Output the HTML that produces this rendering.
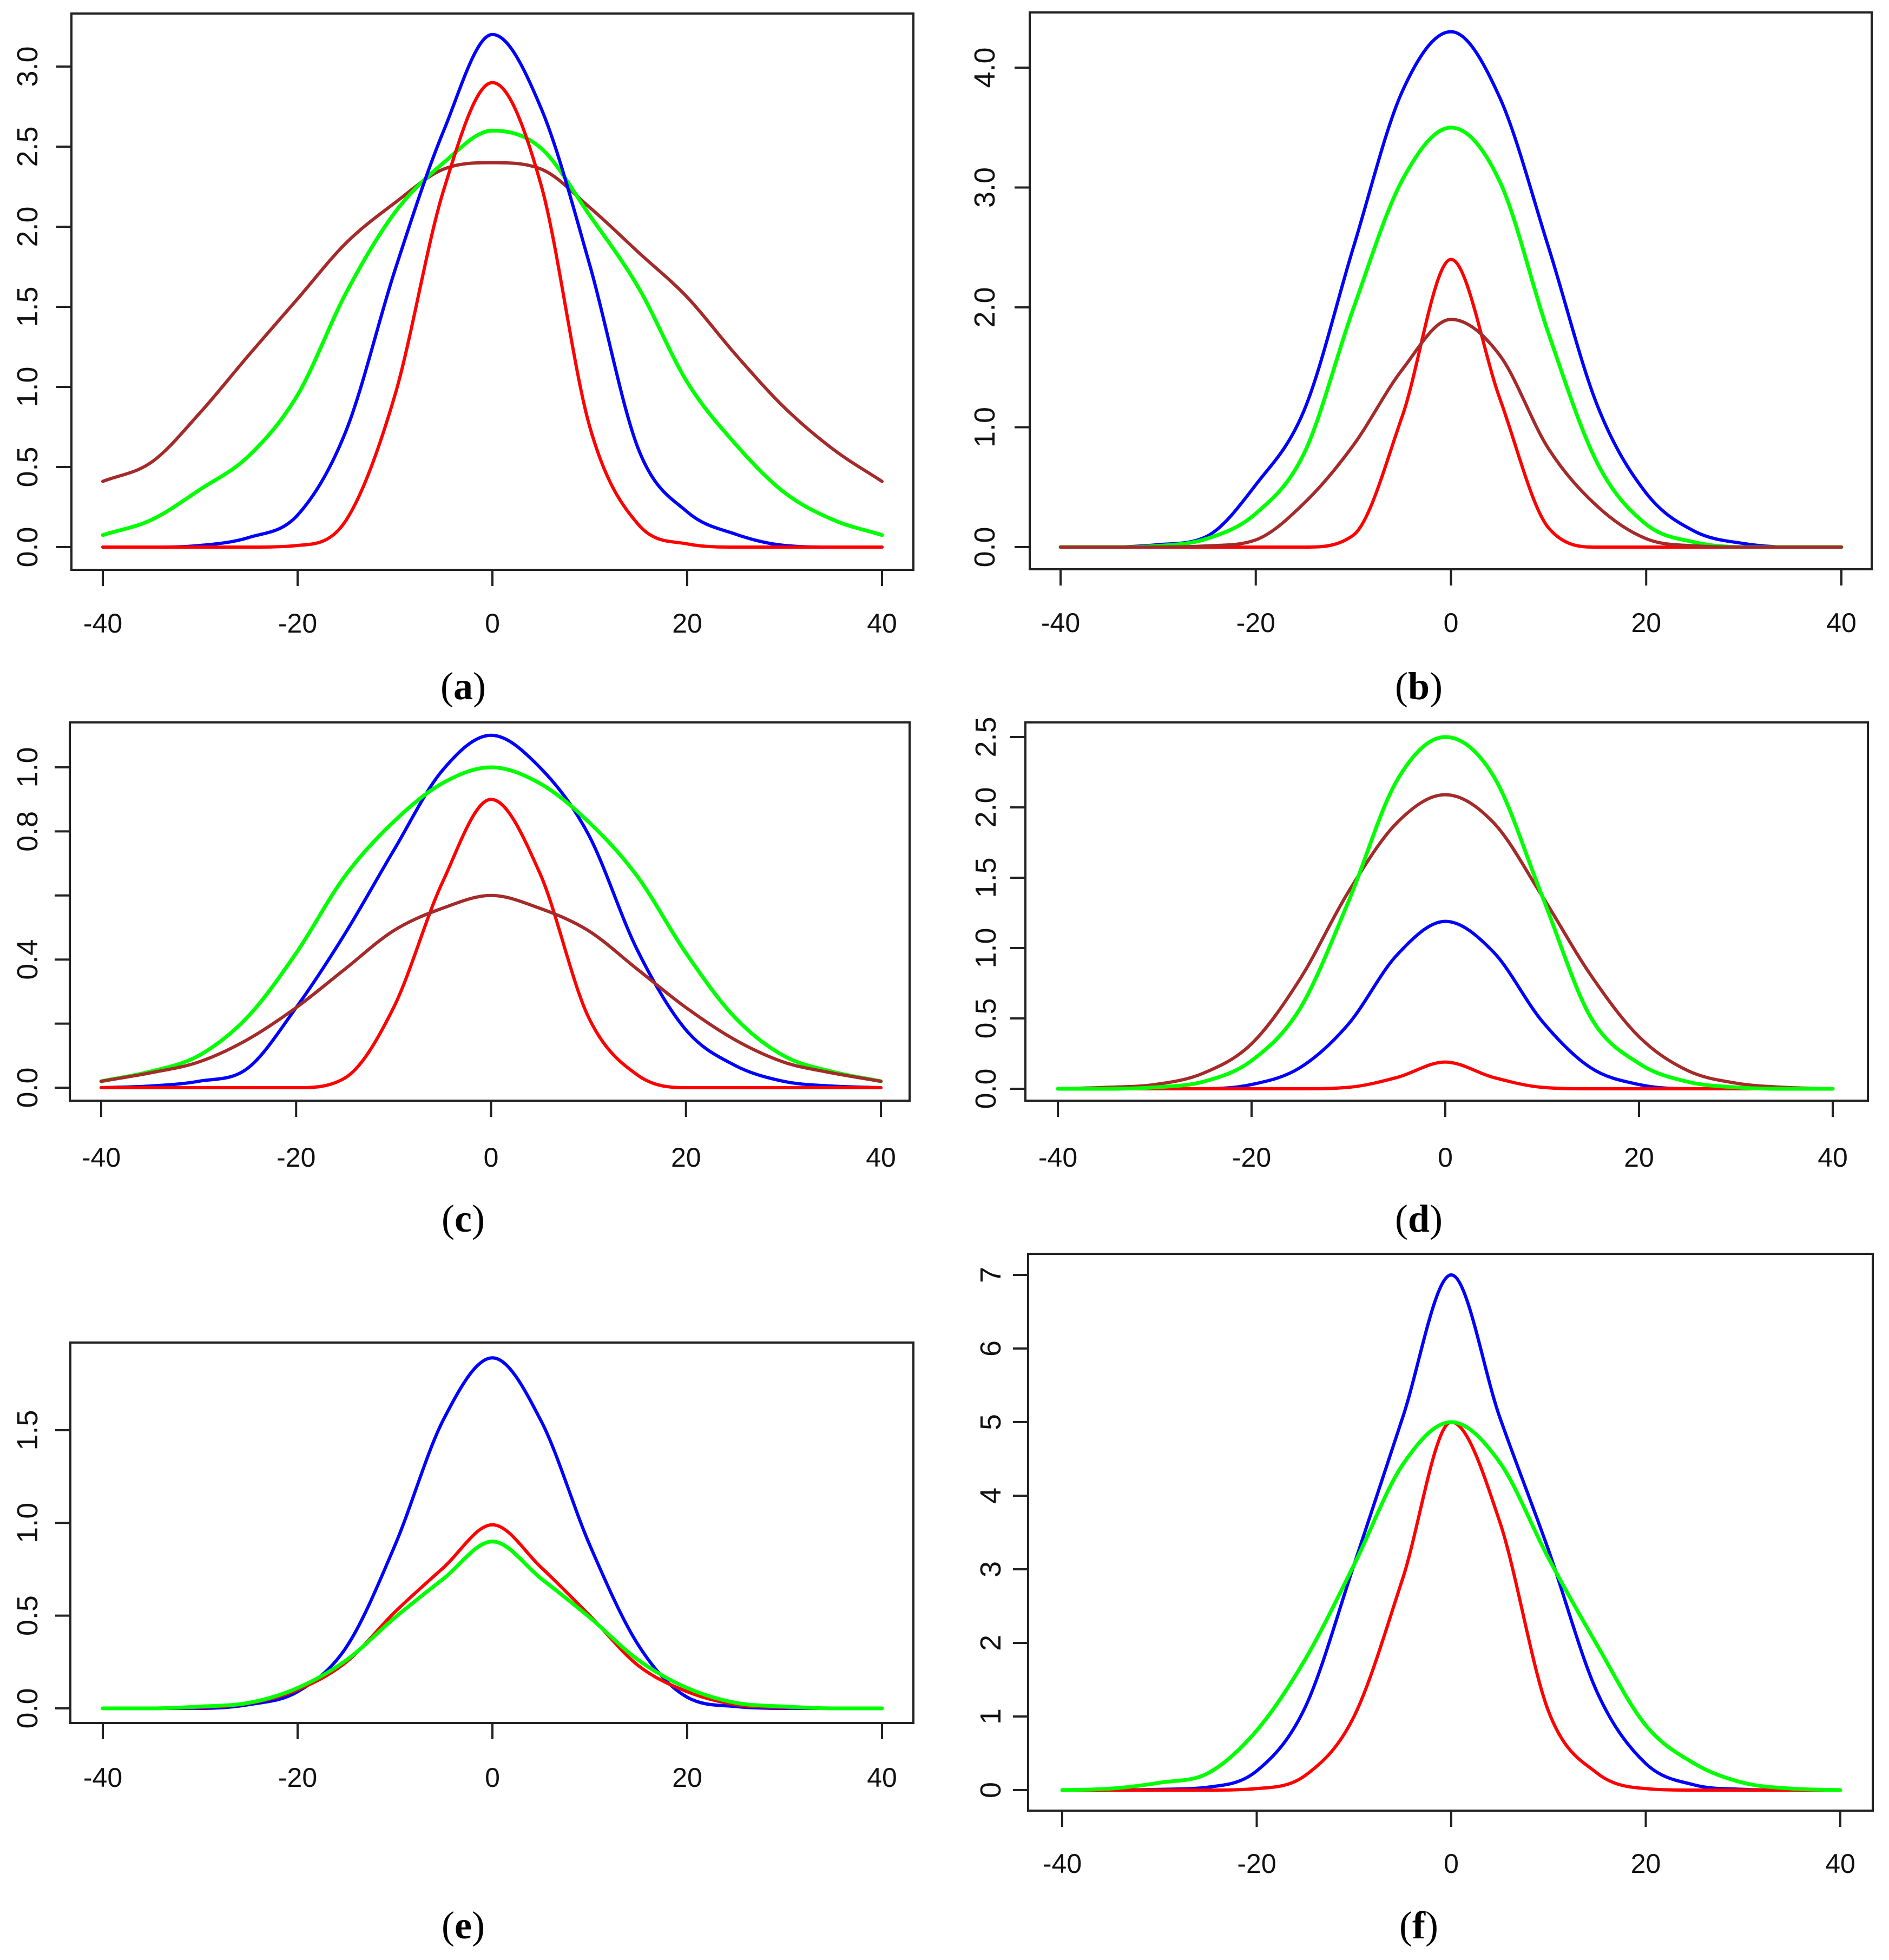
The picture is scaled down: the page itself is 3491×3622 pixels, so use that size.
<!DOCTYPE html>
<html><head><meta charset="utf-8"><style>
html,body{margin:0;padding:0;background:#fff;}
svg{display:block;}
</style></head><body>
<svg id="fig" width="3491" height="3622" viewBox="0 0 3491 3622" xmlns="http://www.w3.org/2000/svg"></svg>
<script>
const xs = [-40,-35,-30,-25,-20,-15,-10,-5,0,5,10,15,20,25,30,35,40];
// panel a
const aBlue  = [0,0,0.01,0.06,0.2,0.73,1.73,2.6,3.2,2.74,1.76,0.61,0.22,0.08,0.01,0,0];
const aRed   = [0,0,0,0,0.01,0.17,0.95,2.23,2.9,2.26,0.75,0.14,0.02,0,0,0,0];
const aGreen = [0.075,0.17,0.36,0.57,0.95,1.59,2.09,2.4,2.6,2.49,2.07,1.62,1.03,0.64,0.34,0.17,0.075];
const aBrown = [0.41,0.53,0.84,1.2,1.55,1.9,2.15,2.36,2.4,2.36,2.12,1.84,1.56,1.2,0.87,0.61,0.41];
// panel b
const bBlue  = [0,0,0.02,0.09,0.52,1.15,2.5,3.8,4.3,3.75,2.5,1.18,0.45,0.13,0.03,0,0];
const bGreen = [0,0,0.01,0.07,0.28,0.79,1.99,3.06,3.5,3.05,1.78,0.7,0.19,0.04,0,0,0];
const bRed   = [0,0,0,0,0,0,0.1,1.09,2.4,1.24,0.16,0,0,0,0,0,0];
const bBrown = [0,0,0,0.01,0.06,0.37,0.85,1.48,1.9,1.6,0.82,0.34,0.07,0.01,0,0,0];
// panel c
const cBlue  = [0,0.005,0.02,0.06,0.25,0.48,0.74,0.99,1.1,1.0,0.79,0.43,0.18,0.07,0.02,0.005,0];
const cGreen = [0.02,0.05,0.10,0.22,0.42,0.66,0.83,0.95,1.0,0.95,0.83,0.66,0.42,0.22,0.10,0.05,0.02];
const cRed   = [0,0,0,0,0,0.03,0.25,0.64,0.9,0.67,0.22,0.04,0,0,0,0,0];
const cBrown = [0.02,0.046,0.08,0.15,0.25,0.37,0.49,0.56,0.6,0.56,0.49,0.37,0.25,0.15,0.08,0.046,0.02];
// panel d
const dGreen = [0,0,0.01,0.05,0.2,0.57,1.33,2.19,2.5,2.22,1.37,0.51,0.18,0.05,0.01,0,0];
const dBrown = [0,0.01,0.03,0.11,0.32,0.78,1.4,1.89,2.09,1.89,1.37,0.81,0.37,0.13,0.04,0.01,0];
const dBlue  = [0,0,0,0,0.03,0.15,0.46,0.95,1.19,0.97,0.48,0.15,0.03,0,0,0,0];
const dRed   = [0,0,0,0,0,0,0.01,0.08,0.19,0.08,0.01,0,0,0,0,0,0];
// panel e
const eBlue  = [0,0,0,0.02,0.09,0.33,0.88,1.56,1.89,1.55,0.88,0.34,0.06,0.01,0,0,0];
const eRed   = [0,0,0.005,0.027,0.1,0.25,0.52,0.76,0.99,0.76,0.5,0.23,0.09,0.02,0.005,0,0];
const eGreen = [0,0,0.01,0.03,0.11,0.26,0.49,0.70,0.9,0.70,0.49,0.26,0.11,0.03,0.01,0,0];
// panel f
const fBlue  = [0,0,0.01,0.04,0.26,1.13,3.06,5.06,7.0,5.06,3.26,1.33,0.36,0.07,0.01,0,0];
const fGreen = [0,0.02,0.1,0.23,0.81,1.78,3.06,4.42,5.0,4.45,3.15,1.97,0.88,0.36,0.1,0.02,0];
const fRed   = [0,0,0,0,0.02,0.2,1.0,2.87,5.0,3.64,1.07,0.23,0.02,0,0,0,0];

const xTicks = [-40,-20,0,20,40];
const aYTicks = [0,0.5,1,1.5,2,2.5,3];
const aYLabels = ["0.0","0.5","1.0","1.5","2.0","2.5","3.0"];
const bYTicks = [0,1,2,3,4];
const bYLabels = ["0.0","1.0","2.0","3.0","4.0"];
const cYTicks = [0,0.2,0.4,0.6,0.8,1.0];
const cYLabels = ["0.0","","0.4","","0.8","1.0"];
const dYTicks = [0,0.5,1,1.5,2,2.5];
const dYLabels = ["0.0","0.5","1.0","1.5","2.0","2.5"];
const eYTicks = [0,0.5,1,1.5];
const eYLabels = ["0.0","0.5","1.0","1.5"];
const fYTicks = [0,1,2,3,4,5,6,7];
const fYLabels = ["0","1","2","3","4","5","6","7"];

const BLUE="#0000ff", RED="#ff0000", GREEN="#00ff00", BROWN="#a52a2a";
const panels = [
 {id:"a", box:[132,25,1688,1053], xp:[190,1630], y0:1011, yu:296, yt:aYTicks, yl:aYLabels, xl:1152, ylx:51, cap:[856,1268],
  series:[[aBrown,BROWN,"brown"],[aGreen,GREEN,"green"],[aBlue,BLUE,"blue"],[aRed,RED,"red"]]},
 {id:"b", box:[1903,23,3459,1052], xp:[1960,3403], y0:1011, yu:221.5, yt:bYTicks, yl:bYLabels, xl:1151, ylx:1820, cap:[2622,1268],
  series:[[bBlue,BLUE,"blue"],[bGreen,GREEN,"green"],[bRed,RED,"red"],[bBrown,BROWN,"brown"]]},
 {id:"c", box:[129,1335,1681,2034], xp:[187,1628], y0:2010, yu:592, yt:cYTicks, yl:cYLabels, xl:2139, ylx:51, cap:[856,2252],
  series:[[cBlue,BLUE,"blue"],[cGreen,GREEN,"green"],[cRed,RED,"red"],[cBrown,BROWN,"brown"]]},
 {id:"d", box:[1895,1335,3452,2034], xp:[1955,3387], y0:2012, yu:260, yt:dYTicks, yl:dYLabels, xl:2139, ylx:1822, cap:[2622,2252],
  series:[[dBlue,BLUE,"blue"],[dRed,RED,"red"],[dBrown,BROWN,"brown"],[dGreen,GREEN,"green"]]},
 {id:"e", box:[130,2481,1688,3184], xp:[190,1630], y0:3157, yu:342.7, yt:eYTicks, yl:eYLabels, xl:3285, ylx:51, cap:[856,3558],
  series:[[eBlue,BLUE,"blue"],[eRed,RED,"red"],[eGreen,GREEN,"green"]]},
 {id:"f", box:[1900,2317,3461,3346], xp:[1963,3401], y0:3308, yu:136, yt:fYTicks, yl:fYLabels, xl:3444, ylx:1831, cap:[2622,3558],
  series:[[fBlue,BLUE,"blue"],[fRed,RED,"red"],[fGreen,GREEN,"green"]]}
];
const NS="http://www.w3.org/2000/svg";
const svg=document.getElementById("fig");
function mk(tag,attrs,parent){const e=document.createElementNS(NS,tag);for(const k in attrs)e.setAttribute(k,attrs[k]);(parent||svg).appendChild(e);return e;}
// monotone cubic (Fritsch-Carlson) path, no overshoot
function monoPath(pts){
  const n=pts.length, dx=[], m=[], t=new Array(n);
  for(let i=0;i<n-1;i++){dx[i]=pts[i+1][0]-pts[i][0];m[i]=(pts[i+1][1]-pts[i][1])/dx[i];}
  t[0]=m[0];t[n-1]=m[n-2];
  for(let i=1;i<n-1;i++){t[i]=(m[i-1]*m[i]<=0)?0:(m[i-1]+m[i])/2;}
  for(let i=0;i<n-1;i++){
    if(m[i]===0){t[i]=0;t[i+1]=0;continue;}
    const a=t[i]/m[i],b=t[i+1]/m[i],s=a*a+b*b;
    if(s>9){const k=3/Math.sqrt(s);t[i]=k*a*m[i];t[i+1]=k*b*m[i];}
  }
  let d="M"+pts[0][0].toFixed(1)+","+pts[0][1].toFixed(1);
  for(let i=0;i<n-1;i++){
    const h=dx[i]/3;
    d+=" C"+(pts[i][0]+h).toFixed(1)+","+(pts[i][1]+t[i]*h).toFixed(1)+" "+(pts[i+1][0]-h).toFixed(1)+","+(pts[i+1][1]-t[i+1]*h).toFixed(1)+" "+pts[i+1][0].toFixed(1)+","+pts[i+1][1].toFixed(1);
  }
  return d;
}
panels.forEach(P=>{
  const g=mk("g",{});
  
  
  const xScale=v=>P.xp[0]+(v+40)/80*(P.xp[1]-P.xp[0]);
  const yScale=v=>P.y0-v*P.yu;
  const [l,t,r,b]=P.box;
  const box=mk("rect",{x:l,y:t,width:r-l,height:b-t,fill:"none",stroke:"#222",'stroke-width':4},g);
  
  
  const xa=mk("g",{},g);
  
  
  mk("line",{x1:xScale(xTicks[0]),x2:xScale(xTicks[xTicks.length-1]),y1:b,y2:b,stroke:"#222",'stroke-width':4},xa);
  xTicks.forEach(v=>{
    const tk=mk("line",{x1:xScale(v),x2:xScale(v),y1:b,y2:b+30,stroke:"#222",'stroke-width':4},xa);
    
    
    const tx=mk("text",{x:xScale(v),y:P.xl,'text-anchor':'middle','dominant-baseline':'central','font-family':'Liberation Sans, sans-serif','font-size':50,fill:"#111"},xa);
    tx.textContent=String(v);
    
    
  });
  const ya=mk("g",{},g);
  
  
  mk("line",{x1:l,x2:l,y1:yScale(P.yt[0]),y2:yScale(P.yt[P.yt.length-1]),stroke:"#222",'stroke-width':4},ya);
  P.yt.forEach((v,i)=>{
    const yy=yScale(v);
    const tk=mk("line",{x1:l-28,x2:l,y1:yy,y2:yy,stroke:"#222",'stroke-width':4},ya);
    
    
    if(P.yl[i]){
      const tx=mk("text",{x:0,y:0,transform:"translate("+P.ylx+","+yy+") rotate(-90)",'text-anchor':'middle','dominant-baseline':'central','font-family':'Liberation Sans, sans-serif','font-size':54,fill:"#111"},ya);
      tx.textContent=P.yl[i];
      
      
    }
  });
  P.series.forEach(s=>{
    const pts=xs.map((x,i)=>[xScale(x),yScale(s[0][i])]);
    const p=mk("path",{d:monoPath(pts),fill:"none",stroke:s[1],'stroke-width':s[1]===GREEN?7:6,'stroke-linejoin':'round','stroke-linecap':'round'},g);
    
    
  });
  const cap=mk("text",{x:P.cap[0],y:P.cap[1],'text-anchor':'middle','dominant-baseline':'central','font-family':'Liberation Serif, serif','font-size':72,fill:"#000"},g);
  
  
  const t1=mk("tspan",{},cap);t1.textContent="(";
  const t2=mk("tspan",{'font-weight':'bold'},cap);t2.textContent=P.id;
  const t3=mk("tspan",{},cap);t3.textContent=")";
});
</script>
</body></html>
